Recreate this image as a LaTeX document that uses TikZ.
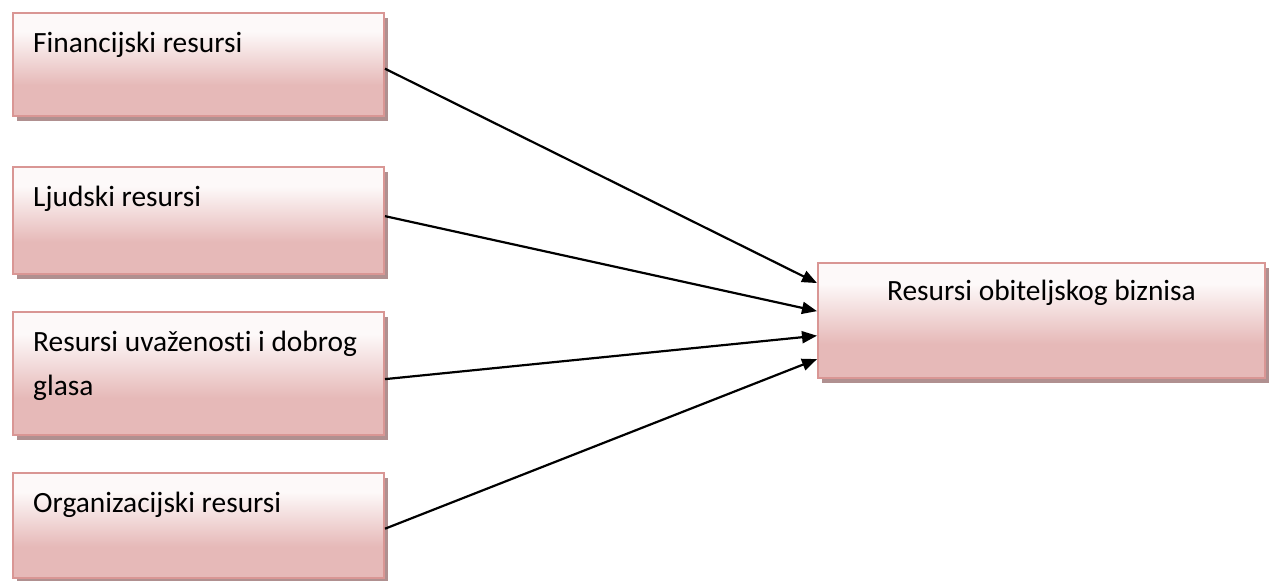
\documentclass[tikz,border=0pt]{standalone}
\usepackage{fontspec}
\setmainfont{Carlito}[Ligatures=NoCommon]
\usetikzlibrary{shadows,calc,arrows.meta}
\definecolor{pinkc}{HTML}{E6B9B8}
\definecolor{topc}{HTML}{FDF9F9}
\definecolor{borderc}{HTML}{D99694}
\definecolor{shadowc}{HTML}{B09090}
\pgfdeclareverticalshading{boxshade}{100bp}{color(0bp)=(pinkc); color(40bp)=(pinkc); color(66bp)=(topc); color(100bp)=(topc)}
\tikzset{
  resbox/.style={rectangle, shading=boxshade, draw=borderc, line width=2pt, inner sep=0pt, anchor=north west,
    drop shadow={shadow xshift=4pt, shadow yshift=-5pt, fill=shadowc, opacity=1}},
  lbl/.style={inner sep=0pt, font=\fontsize{29.4}{44}\selectfont, align=left},
  conn/.style={line width=2.2pt, -{Triangle[length=15pt,width=12pt]}}
}
\begin{document}
\begin{tikzpicture}[x=1pt,y=-1pt]
\useasboundingbox (0,0) rectangle (1272,581);
\node[resbox, minimum width=371pt, minimum height=103pt] (b1) at (12,12) {};
\node[resbox, minimum width=371pt, minimum height=107pt] (b2) at (12,166) {};
\node[resbox, minimum width=371pt, minimum height=123pt] (b3) at (12,311) {};
\node[resbox, minimum width=371pt, minimum height=105pt] (b4) at (12,472) {};
\node[resbox, minimum width=447pt, minimum height=115pt] (r) at (817,262) {};
\node[lbl, anchor=base west] (t1) at ([shift={(21,40)}]b1.north west) {Financijski resursi};
\node[lbl, anchor=base west] (t2) at ([shift={(21,40)}]b2.north west) {Ljudski resursi};
\node[lbl, anchor=base west] (t3) at ([shift={(21,40)}]b3.north west) {Resursi uvaženosti i dobrog};
\node[lbl, anchor=base west] (t3b) at ([shift={(21,84)}]b3.north west) {glasa};
\node[lbl, anchor=base west] (t4) at ([shift={(21,40)}]b4.north west) {Organizacijski resursi};
\node[lbl, anchor=base] (tr) at ([shift={(0,38)}]r.north) {Resursi obiteljskog biznisa};
\draw[conn] ($(b1.north east)!0.54!(b1.south east)$) -- ($(r.north west)!0.18!(r.south west)$);
\draw[conn] ($(b2.north east)!0.46!(b2.south east)$) -- ($(r.north west)!0.42!(r.south west)$);
\draw[conn] ($(b3.north east)!0.545!(b3.south east)$) -- ($(r.north west)!0.63!(r.south west)$);
\draw[conn] ($(b4.north east)!0.53!(b4.south east)$) -- ($(r.north west)!0.83!(r.south west)$);
\end{tikzpicture}
\end{document}
